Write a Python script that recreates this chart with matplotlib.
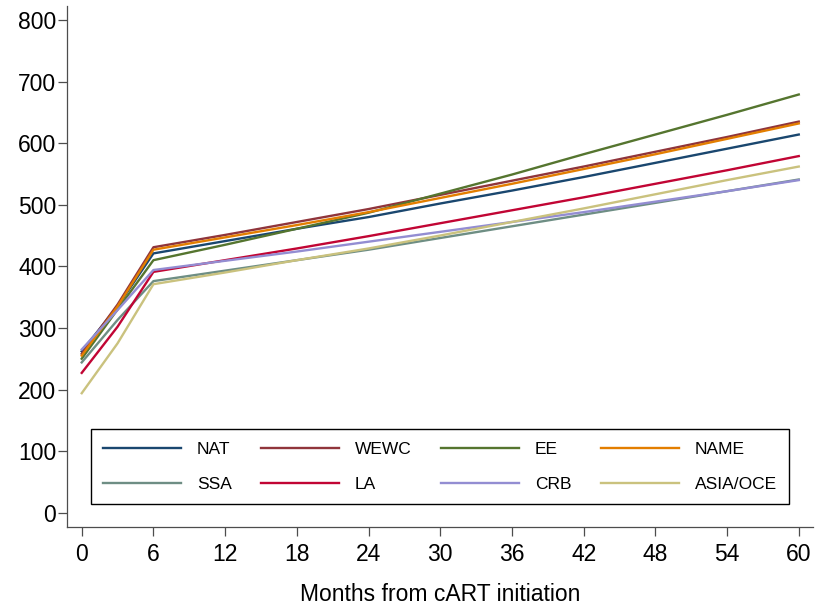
import matplotlib
matplotlib.use("Agg")
import matplotlib.pyplot as plt

plt.rcParams['font.family'] = ['Liberation Sans', 'DejaVu Sans']

months = [0, 3, 6, 12, 18, 24, 30, 36, 42, 48, 54, 60]

nat = [262, 335, 421, 441, 461, 480, 502, 523, 545, 568, 591, 614]
wewc = [258, 338, 431, 451, 472, 493, 516, 539, 562, 586, 610, 635]
ee = [250, 330, 410, 435, 461, 487, 518, 549, 582, 614, 646, 679]
name = [255, 335, 427, 447, 467, 488, 511, 534, 558, 582, 607, 632]
ssa = [244, 313, 376, 393, 410, 427, 446, 465, 484, 503, 522, 541]
la = [227, 302, 391, 410, 429, 449, 470, 491, 512, 534, 556, 579]
crb = [265, 329, 394, 409, 424, 440, 456, 472, 488, 505, 522, 540]
asia = [194, 275, 371, 390, 410, 429, 450, 472, 494, 517, 540, 562]

series = [("NAT", nat, "#1a476f"), ("WEWC", wewc, "#90353b"),
          ("EE", ee, "#55752f"), ("NAME", name, "#e37e00"),
          ("SSA", ssa, "#6e8e84"), ("LA", la, "#c10534"),
          ("CRB", crb, "#938dd2"), ("ASIA/OCE", asia, "#cac27e")]

fig = plt.figure(figsize=(8.16, 6.06), dpi=100)
ax = fig.add_axes([0.0817, 0.1304, 0.9143, 0.8597])

lines = {}
for lab, vals, col in series:
    lines[lab], = ax.plot(months, vals, color=col, lw=1.7, label=lab)

ax.set_xlim(-1.26, 61.17)
ax.set_ylim(-23.2, 822.7)
ax.set_xticks(range(0, 61, 6))
ax.set_yticks(range(0, 801, 100))
ax.tick_params(labelsize=16.5, length=6.5, width=0.9, color="#4d4d4d")
ax.tick_params(axis="y", pad=1)
ax.tick_params(axis="x", pad=5)
for s in ["top", "right"]:
    ax.spines[s].set_visible(False)
for s in ["left", "bottom"]:
    ax.spines[s].set_color("#4d4d4d")
    ax.spines[s].set_linewidth(0.9)
ax.set_xlabel("Months from cART initiation", fontsize=16.5, labelpad=12)

# legend fills row by row in the original
order = ["NAT", "SSA", "WEWC", "LA", "EE", "CRB", "NAME", "ASIA/OCE"]
leg = ax.legend([lines[k] for k in order], order, ncol=4, loc="lower left",
                bbox_to_anchor=(0.0326, 0.0441, 0.9357, 0.146), mode="expand",
                borderaxespad=0, fontsize=12.5, handlelength=4.5,
                handletextpad=0.9, labelspacing=1.15, fancybox=False,
                edgecolor="black", framealpha=1, borderpad=0.7)
leg.get_frame().set_linewidth(1.0)

fig.savefig("out.png", dpi=100)
